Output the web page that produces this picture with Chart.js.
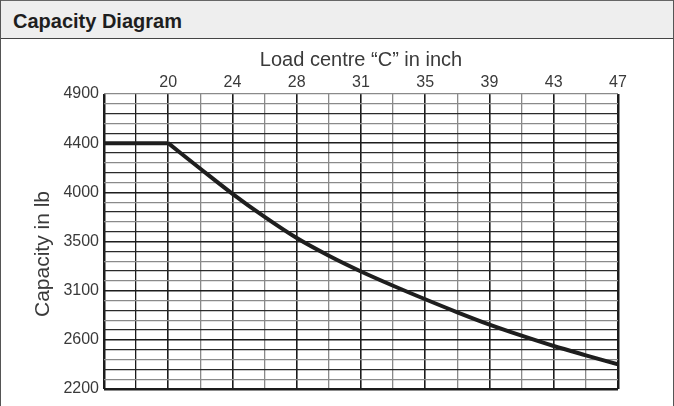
<!DOCTYPE html>
<html>
<head>
<meta charset="utf-8">
<script src="https://cdn.jsdelivr.net/npm/chart.js@4.4.1/dist/chart.umd.min.js"></script>
<style>
  html, body { margin: 0; padding: 0; background: #fff; }
  #frame { position: relative; width: 674px; height: 406px; overflow: hidden; }
  #frame canvas { position: absolute; left: 0; top: 0; }
  #head {
    position: absolute; left: 0; top: 0; width: 672px; height: 37px;
    background: #eeeeee; border: 1px solid #666; border-bottom: 1px solid #444;
  }
  #head span {
    position: absolute; left: 12px; top: 9px;
    font: bold 20px "Liberation Sans", Arial, sans-serif; color: #1e1e1e;
  }
  #ytitle {
    position: absolute; left: -58px; top: 242px; width: 200px; height: 24px;
    line-height: 24px; text-align: center; transform: rotate(-90deg);
    font: 21px "Liberation Sans", Arial, sans-serif; color: #3a3a3a;
  }
  .edge { position: absolute; top: 0; width: 1px; height: 406px; background: #555; }
</style>
</head>
<body>
<div id="frame">
  <canvas id="capChart" width="674" height="406"></canvas>
  <div id="head"><span>Capacity Diagram</span></div>
  <div id="ytitle">Capacity in lb</div>
  <div class="edge" style="left:0"></div>
  <div class="edge" style="left:673px"></div>
</div>
<script>
// grid runs in mm / kg, labels are the inch / lb values printed on the sheet
const loadCentreMm = [400, 500, 550, 600, 650, 700, 750, 800, 850, 900, 950, 1000, 1050, 1100, 1150, 1200];
const capacityKg   = [2000, 2000, 1896, 1794, 1700, 1614, 1542, 1478, 1420, 1365, 1312, 1262, 1217, 1175, 1137, 1100];

const xTickMm   = [500, 600, 700, 800, 900, 1000, 1100, 1200];
const xTickInch = ['20', '24', '28', '31', '35', '39', '43', '47'];
const yTickKg   = [1000, 1200, 1400, 1600, 1800, 2000, 2200];
const yTickLb   = ['2200', '2600', '3100', '3500', '4000', '4400', '4900'];

const FONT = '"Liberation Sans", Arial, sans-serif';
const TXT = '#3a3a3a';

// flat part up to 20 in, then the curve (kept apart so the corner stays sharp)
function pts(from, to) {
  const out = [];
  for (let i = from; i <= to; i++) out.push({ x: loadCentreMm[i], y: capacityKg[i] });
  return out;
}
const last = loadCentreMm.length - 1;

function xColor(v) {
  if (v % 100 === 0 || v === 450) return '#1c1c1c';
  return '#8a8a8a';
}
function xWidth(v) {
  if (v === 400 || v === 1200) return 2.5;
  return v % 100 === 0 ? 1.6 : 1.3;
}
function yColor(v) {
  if (v === 2200) return '#8a8a8a';
  if (v % 200 === 0) return '#1c1c1c';
  return ((v - 1000) / 40) % 2 === 0 ? '#2a2a2a' : '#8a8a8a';
}
function yWidth(v) {
  if (v === 1000) return 2.5;
  if (v === 2200) return 1.3;
  return v % 200 === 0 ? 1.6 : 1.3;
}

new Chart(document.getElementById('capChart'), {
  type: 'line',
  data: {
    datasets: [
      {
        data: pts(0, 1),
        borderColor: '#1e1e1e', borderWidth: 4, pointRadius: 0, tension: 0
      },
      {
        data: pts(1, last),
        borderColor: '#1e1e1e', borderWidth: 4, pointRadius: 0,
        cubicInterpolationMode: 'monotone'
      }
    ]
  },
  options: {
    responsive: false,
    animation: false,
    layout: { padding: { left: 0, right: 56, top: 39, bottom: 17 } },
    plugins: { legend: { display: false }, tooltip: { enabled: false } },
    scales: {
      x: {
        type: 'linear', position: 'top', min: 400, max: 1200,
        afterFit: s => { s.height = 55; },
        border: { display: false },
        grid: {
          drawTicks: false,
          color: c => xColor(c.tick.value),
          lineWidth: c => xWidth(c.tick.value)
        },
        ticks: {
          stepSize: 50, autoSkip: false, maxRotation: 0, padding: 2,
          color: TXT, font: { family: FONT, size: 16 },
          callback: v => {
            const i = xTickMm.indexOf(v);
            return i >= 0 ? xTickInch[i] : '';
          }
        },
        title: {
          display: true, text: 'Load centre \u201cC\u201d in inch',
          color: TXT, font: { family: FONT, size: 20 }, padding: { top: 9 }
        }
      },
      y: {
        type: 'linear', min: 1000, max: 2200,
        afterFit: s => { s.width = 104; },
        border: { display: false },
        grid: {
          drawTicks: false,
          color: c => yColor(c.tick.value),
          lineWidth: c => yWidth(c.tick.value)
        },
        ticks: {
          stepSize: 40, autoSkip: false, padding: 5,
          color: TXT, font: { family: FONT, size: 16 },
          callback: v => {
            const i = yTickKg.indexOf(v);
            return i >= 0 ? yTickLb[i] : '';
          }
        }
      }
    }
  }
});
</script>
</body>
</html>
